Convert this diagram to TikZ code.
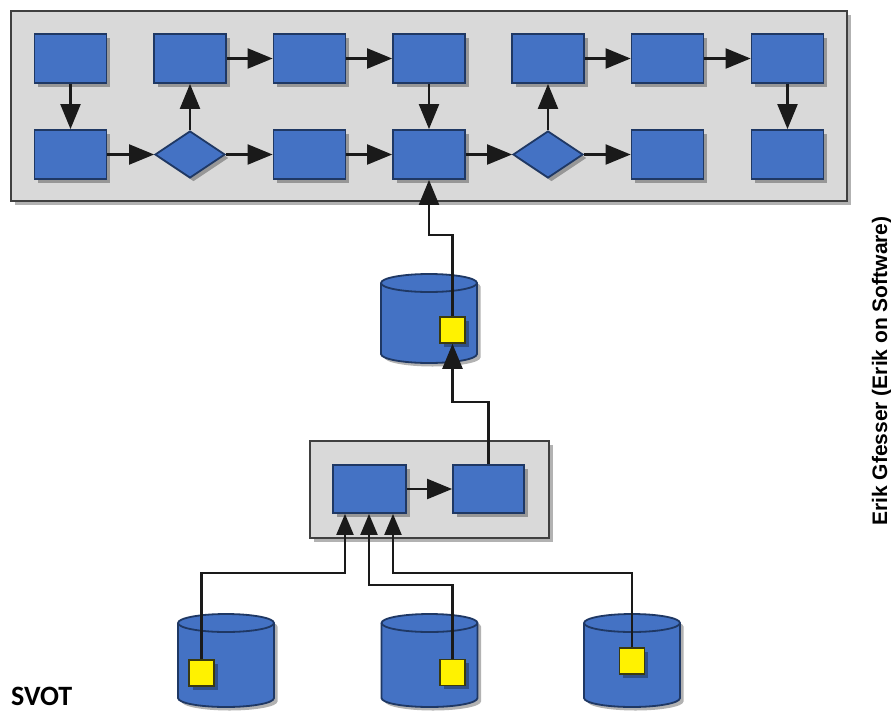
\documentclass[tikz,border=0pt]{standalone}
\usepackage{fontspec}
\newfontfamily\lsans{Liberation Sans}
\newfontfamily\carl{Carlito}
\usetikzlibrary{shapes.geometric,arrows.meta,shadows}
\definecolor{boxblue}{HTML}{4472C4}
\definecolor{boxedge}{HTML}{1F3864}
\definecolor{panel}{HTML}{D9D9D9}
\definecolor{panedge}{HTML}{404040}
\definecolor{linec}{HTML}{1A1A1A}
\definecolor{keyedge}{HTML}{3A3A10}
\newcommand\dbcyl[4]{%
  \node[rectangle,minimum width=96pt,minimum height=#4pt,inner sep=0] (#1) at (#2,#3) {};
  \pgfmathsetmacro\cyT{#3-#4/2+9}%
  \pgfmathsetmacro\cyB{#3+#4/2-9}%
  \pgfmathsetmacro\cxL{#2-48}%
  \pgfmathsetmacro\cxR{#2+48}%
  \draw[cylbody] (\cxL,\cyT) -- (\cxL,\cyB) arc[start angle=180,end angle=0,x radius=48,y radius=9]
     -- (\cxR,\cyT) arc[start angle=0,end angle=-180,x radius=48,y radius=9] -- cycle;
  \draw[cylrim] (\cxL,\cyT) arc[start angle=180,end angle=0,x radius=48,y radius=9];
}
\begin{document}
\begin{tikzpicture}[x=1pt,y=-1pt,
  shad/.style={drop shadow={shadow xshift=3.5pt,shadow yshift=-3.5pt,opacity=0.3,fill=black}},
  panelbox/.style={rectangle,draw=panedge,fill=panel,line width=1.8pt,shad,inner sep=0},
  blk/.style={rectangle,draw=boxedge,fill=boxblue,line width=1.8pt,minimum width=72pt,minimum height=49pt,inner sep=0,shad},
  dec/.style={diamond,draw=boxedge,fill=boxblue,line width=1.8pt,minimum width=70pt,minimum height=47pt,inner sep=0,shad},
  cylbody/.style={draw=boxedge,fill=boxblue,line width=1.8pt,line join=round,shad},
  cylrim/.style={draw=boxedge,line width=1.8pt},
  keybox/.style={rectangle,draw=keyedge,fill=yellow,line width=1.5pt,minimum width=25pt,minimum height=26pt,inner sep=0,shad},
  arr/.style={draw=linec,line width=2.2pt,-{Triangle[length=25pt,width=20pt]}},
  arrsm/.style={draw=linec,line width=2.2pt,-{Triangle[length=21pt,width=17pt]}}
]
\useasboundingbox (0,0) rectangle (891,712);
\fill[white] (0,0) rectangle (891,712);

% panels
\node[panelbox,minimum width=836pt,minimum height=190pt] (top) at (429,106) {};
\node[panelbox,minimum width=239pt,minimum height=97pt] (mid) at (429.5,489.5) {};

% top panel boxes
\node[blk] (t1) at (70.5,58.5) {};
\node[blk] (t2) at (190,58.5) {};
\node[blk] (t3) at (309.5,58.5) {};
\node[blk] (t4) at (429,58.5) {};
\node[blk] (t5) at (548,58.5) {};
\node[blk] (t6) at (667.5,58.5) {};
\node[blk] (t7) at (787.5,58.5) {};
\node[blk] (b1) at (70.5,154.5) {};
\node[dec] (d2) at (190,154.5) {};
\node[blk] (b3) at (309.5,154.5) {};
\node[blk] (b4) at (429,154.5) {};
\node[dec] (d5) at (548,154.5) {};
\node[blk] (b6) at (667.5,154.5) {};
\node[blk] (b7) at (787.5,154.5) {};

% middle panel boxes
\node[blk,minimum width=73pt,minimum height=48pt] (mL) at (369.5,489) {};
\node[blk,minimum width=71pt,minimum height=48pt] (mR) at (488.5,489) {};

% cylinders
\dbcyl{cM}{429}{318.5}{89}
\dbcyl{cL}{226}{660.5}{93}
\dbcyl{cC}{429.5}{660.5}{93}
\dbcyl{cR}{632}{660.5}{93}

% keys
\node[keybox] (kM) at (452.5,330) {};
\node[keybox] (kL) at (201.5,673) {};
\node[keybox] (kC) at (452.5,672.5) {};
\node[keybox] (kR) at (632,661) {};

% top panel connectors
\draw[arr] (t1) -- (b1);
\draw[arr] (b1) -- (d2);
\draw[arr] (d2) -- (t2);
\draw[arr] (t2) -- (t3);
\draw[arr] (t3) -- (t4);
\draw[arr] (d2) -- (b3);
\draw[arr] (b3) -- (b4);
\draw[arr] (t4) -- (b4);
\draw[arr] (b4) -- (d5);
\draw[arr] (d5) -- (t5);
\draw[arr] (d5) -- (b6);
\draw[arr] (t5) -- (t6);
\draw[arr] (t6) -- (t7);
\draw[arr] (t7) -- (b7);

% middle connectors
\draw[arr] (mL) -- (mR);
\coordinate (j1) at (429,235);
\draw[arr] (kM.north) |- (j1) -- (b4.south);
\coordinate (j2) at (452.5,402);
\draw[arr] (mR.north) |- (j2) -- (kM.south);

% bottom connectors
\coordinate (j3) at (345,573);
\coordinate (j4) at (369,585);
\coordinate (j5) at (393,573);
\draw[arrsm] (kL.north) |- (j3) -- (j3 |- mL.south);
\draw[arrsm] (kC.north) |- (j4) -- (j4 |- mL.south);
\draw[arrsm] (kR.north) |- (j5) -- (j5 |- mL.south);

% texts
\node[font=\carl\bfseries\fontsize{28}{30}\selectfont,anchor=base west,inner sep=0] (svot) at (11,705) {SVOT};
\node[font=\lsans\bfseries\fontsize{21}{24}\selectfont,rotate=90,anchor=base,inner sep=0] (auth) at (887,371) {Erik Gfesser (Erik on Software)};
\end{tikzpicture}
\end{document}
